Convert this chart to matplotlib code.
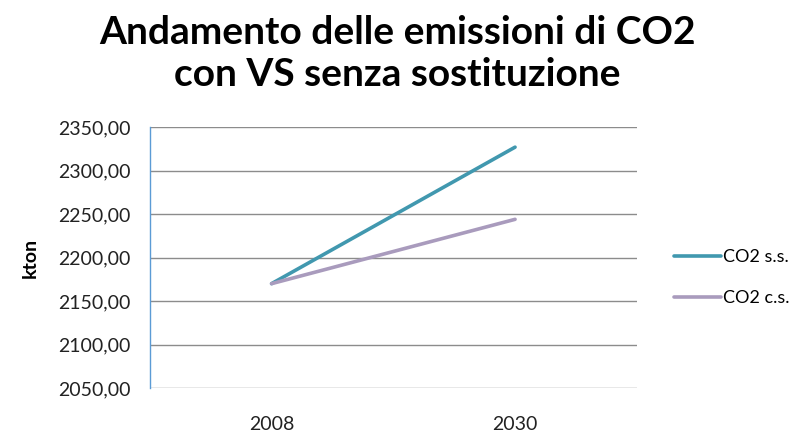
import matplotlib
matplotlib.use("Agg")
from matplotlib import pyplot as plt
from matplotlib.ticker import FuncFormatter

# data
years = ['2008', '2030']
co2_ss = [2170, 2327]
co2_cs = [2170, 2244]
y_ticks = [2050, 2100, 2150, 2200, 2250, 2300, 2350]

plt.rcParams['font.family'] = ['Lato', 'DejaVu Sans']

fig = plt.figure(figsize=(7.97, 4.34), dpi=100)
ax = fig.add_axes([0.188, 0.106, 0.611, 0.601])

x = [0.5, 1.5]
ax.plot(x, co2_ss, color='#4198AF', lw=2.6, label='CO2 s.s.', solid_capstyle='round')
ax.plot(x, co2_cs, color='#A99BBD', lw=2.6, label='CO2 c.s.', solid_capstyle='round')

ax.set_xlim(0, 2)
ax.set_ylim(2050, 2350)
ax.set_yticks(y_ticks)
ax.yaxis.set_major_formatter(FuncFormatter(lambda v, p: f"{v:.2f}".replace('.', ',')))
ax.set_xticks(x)
ax.set_xticklabels(years)
ax.tick_params(axis='both', length=0, labelsize=14, colors='#222222')
ax.tick_params(axis='x', pad=20)
ax.tick_params(axis='y', pad=14)

ax.grid(axis='y', color='#8C8C8C', lw=1)
ax.set_axisbelow(True)
for s in ['top', 'right', 'bottom']:
    ax.spines[s].set_visible(False)
ax.spines['left'].set_color('#5B9BD5')
ax.spines['left'].set_linewidth(1)

ax.set_ylabel('kton', fontsize=14, fontweight='bold', labelpad=14)

fig.text(0.499, 0.877, 'Andamento delle emissioni di CO2\ncon VS senza sostituzione',
         ha='center', va='center', fontsize=28, fontweight='bold', linespacing=1.22)

fig.legend(loc='center left', bbox_to_anchor=(0.825, 0.36), frameon=False,
           fontsize=13, handlelength=2.6, handletextpad=0.1, labelspacing=1.4)

fig.savefig('out.png', dpi=100)
